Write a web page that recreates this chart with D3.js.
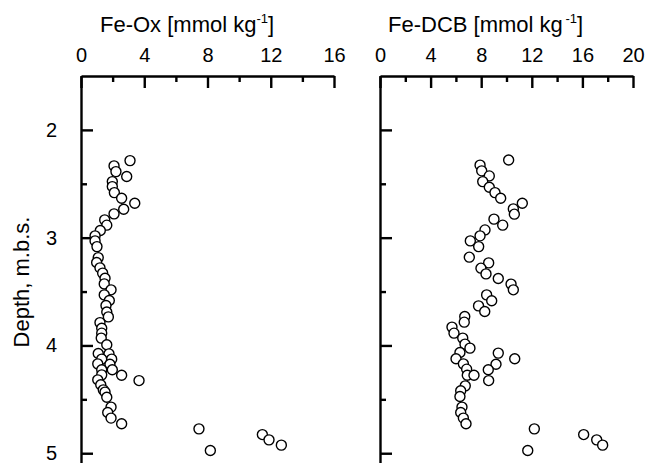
<!DOCTYPE html>
<html>
<head>
<meta charset="utf-8">
<script src="https://cdn.jsdelivr.net/npm/d3@7"></script>
<style>
  html, body { margin: 0; padding: 0; background: #fff; }
  svg { display: block; font-family: "Liberation Sans", Arial, Helvetica, sans-serif; }
</style>
</head>
<body>
<svg id="chart" width="646" height="463"></svg>
<script>
// ---- data ----
const oxDepth = [2.285,2.334,2.387,2.433,2.480,2.526,2.582,2.634,2.680,2.736,2.779,2.835,2.884,2.934,2.983,3.030,3.083,3.185,3.231,3.280,3.329,3.376,3.429,3.484,3.531,3.583,3.630,3.690,3.735,3.788,3.840,3.886,3.932,3.994,4.075,4.078,4.127,4.127,4.171,4.174,4.226,4.226,4.273,4.276,4.326,4.319,4.365,4.412,4.433,4.480,4.572,4.622,4.674,4.727,4.774,4.827,4.876,4.925,4.975];
const oxValue = [3.10,2.09,2.21,2.89,1.98,1.98,2.11,2.57,3.40,2.70,2.09,1.50,1.63,1.22,0.89,0.89,1.01,1.09,0.99,1.20,1.37,1.52,1.47,1.90,1.47,1.79,1.58,1.63,1.73,1.20,1.31,1.31,1.28,1.63,1.09,1.77,1.31,1.94,1.06,1.83,1.31,1.98,1.31,2.57,3.67,1.06,1.25,1.41,1.52,1.63,1.90,1.69,1.90,2.57,7.46,11.47,11.89,12.67,8.18];

const dcbDepth = [2.280,2.327,2.380,2.427,2.480,2.532,2.582,2.634,2.680,2.733,2.782,2.828,2.884,2.928,2.983,3.030,3.083,3.181,3.234,3.283,3.336,3.379,3.431,3.484,3.531,3.586,3.633,3.685,3.732,3.784,3.830,3.886,3.932,3.988,4.025,4.066,4.071,4.124,4.124,4.171,4.174,4.220,4.226,4.276,4.276,4.326,4.375,4.421,4.474,4.572,4.622,4.674,4.727,4.774,4.827,4.876,4.925,4.975];
const dcbValue = [10.17,7.91,8.04,8.64,8.12,8.64,9.09,9.54,11.25,10.54,10.62,9.01,9.70,8.30,7.91,7.14,7.80,7.06,8.59,7.98,8.38,9.35,10.36,10.54,8.43,8.83,7.79,8.28,6.70,6.66,5.69,5.85,6.54,6.72,7.11,6.32,9.35,6.01,10.65,6.59,9.17,6.85,8.56,6.90,7.43,8.59,6.74,6.38,6.32,6.48,6.38,6.59,6.80,12.20,16.10,17.13,17.60,11.68];

const oxTicks = [0, 4, 8, 12, 16];
const oxMinor = [2, 6, 10, 14];
const dcbTicks = [0, 4, 8, 12, 16, 20];
const dcbMinor = [2, 6, 10, 14, 18];
const depthTicks = [2, 3, 4, 5];
const depthMinor = [2.5, 3.5, 4.5];

// ---- layout ----
const svg = d3.select("#chart");
const y = d3.scaleLinear().domain([1.5, 5.1]).range([76, 464]);
const AX = 2.4;

function panel(x0, x1, xmax, ticks, minor, depth, value, title, gapSup, showYLabels) {
  const x = d3.scaleLinear().domain([0, xmax]).range([x0, x1]);
  const g = svg.append("g");

  // top axis
  const top = d3.axisTop(x).tickValues(ticks).tickSizeInner(-12).tickSizeOuter(0).tickPadding(14);
  const gt = g.append("g").attr("transform", `translate(0,${y(1.5)})`).call(top);
  gt.selectAll(".tick text").attr("font-size", 20).attr("fill", "#000");
  gt.selectAll(".tick line").attr("stroke-width", AX);
  gt.select(".domain").attr("stroke-width", AX);
  const topMinor = d3.axisTop(x).tickValues(minor).tickSize(-6).tickFormat("");
  const gtm = g.append("g").attr("transform", `translate(0,${y(1.5)})`).call(topMinor);
  gtm.select(".domain").remove();
  gtm.selectAll(".tick line").attr("stroke-width", AX);

  // left axis
  const left = d3.axisLeft(y).tickValues(depthTicks).tickSizeInner(-12).tickSizeOuter(0).tickPadding(24)
    .tickFormat(showYLabels ? d3.format("d") : "");
  const gl = g.append("g").attr("transform", `translate(${x0},0)`).call(left);
  gl.selectAll(".tick text").attr("font-size", 20).attr("fill", "#000");
  gl.selectAll(".tick line").attr("stroke-width", AX);
  gl.select(".domain").attr("stroke-width", AX);
  const leftMinor = d3.axisLeft(y).tickValues(depthMinor).tickSize(-6).tickFormat("");
  const glm = g.append("g").attr("transform", `translate(${x0},0)`).call(leftMinor);
  glm.select(".domain").remove();
  glm.selectAll(".tick line").attr("stroke-width", AX);

  // points
  g.append("g").selectAll("circle")
    .data(depth.map((d, i) => ({ d: d, v: value[i] })))
    .join("circle")
    .attr("cx", p => x(p.v))
    .attr("cy", p => y(p.d))
    .attr("r", 5)
    .attr("fill", "#fff")
    .attr("stroke", "#000")
    .attr("stroke-width", 1.4);

  // title
  const t = svg.append("text").attr("x", title.x).attr("y", 32).attr("font-size", 22).attr("fill", "#000");
  t.append("tspan").text(title.main);
  t.append("tspan").attr("font-size", 13).attr("dy", -9).text(gapSup ? "\u2009-1" : "-1");
  t.append("tspan").attr("dy", 9).text("]");
}

panel(81, 334, 16, oxTicks, oxMinor, oxDepth, oxValue, { x: 100, main: "Fe-Ox [mmol kg" }, false, true);
panel(380, 633, 20, dcbTicks, dcbMinor, dcbDepth, dcbValue, { x: 388, main: "Fe-DCB [mmol kg" }, true, false);

// y axis label
svg.append("text")
  .attr("transform", "translate(29,282) rotate(-90)")
  .attr("text-anchor", "middle")
  .attr("font-size", 22)
  .attr("fill", "#000")
  .text("Depth, m.b.s.");
</script>
</body>
</html>
